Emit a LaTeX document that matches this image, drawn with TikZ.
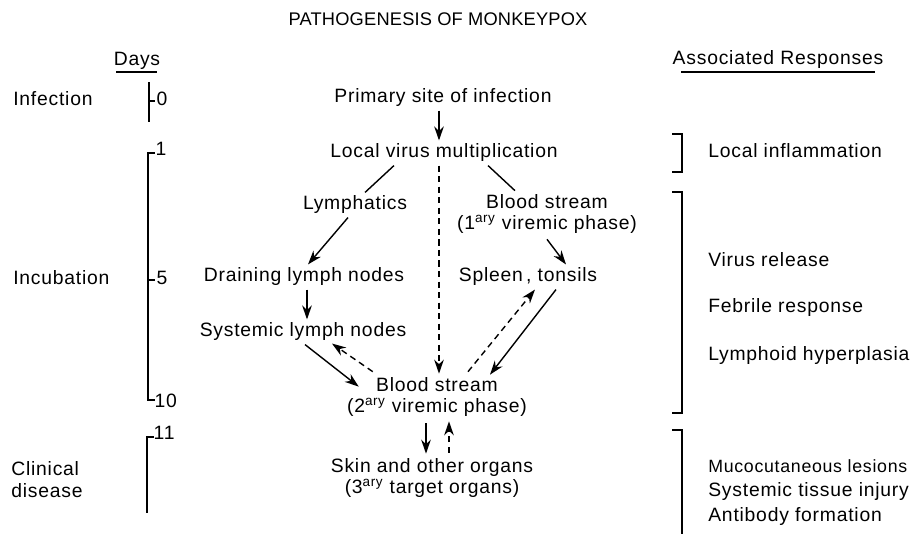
\documentclass[tikz,border=0pt]{standalone}
\usepackage{fontspec}
\setmainfont{Liberation Sans}[LetterSpace=4]
\newfontfamily\titlefont{Liberation Sans}[LetterSpace=1]
\usetikzlibrary{arrows.meta,calc}

\tikzset{
  txt/.style={font=\fontsize{11}{12}\selectfont, inner sep=1.5pt, text height=8pt, text depth=2.5pt},
  twoline/.style={font=\fontsize{11}{12.5}\selectfont, inner sep=1.5pt, align=center},
  dashline/.style={dash pattern=on 3.5pt off 2.5pt},
}

\begin{document}
\begin{tikzpicture}[x=0.02cm, y=-0.02cm, line width=0.8pt,
    >={Stealth[length=8pt,width=5.5pt]}]
        \useasboundingbox (0,0) rectangle (914,534);

        % Title and headings
        \node[txt, font=\titlefont\fontsize{10.4}{11}\selectfont] (title) at (438,21) {PATHOGENESIS OF MONKEYPOX};
        \node[txt] (days) at (137,61) {Days};
        \draw (116,72) -- (157,72);
        \node[txt] (resp) at (778,60) {Associated Responses};
        \draw (681,72) -- (875,72);

        % Stages on the left
        \node[txt, anchor=west] (infect) at (10,101) {Infection};
        \node[txt, anchor=west] (incub) at (10,280) {Incubation};
        \node[twoline, anchor=west, align=left] (clin) at (8,480) {Clinical\\disease};

        % Days scale
        \draw (149,82) -- (149,122);
        \draw (149,101) -- (155,101);
        \node[txt, anchor=west, inner sep=0pt] (d0) at (156,101) {0};
        \draw (155,153) -- (148,153) -- (148,400) -- (155,400);
        \draw (148,280) -- (155,280);
        \node[txt, anchor=west, inner sep=0pt] (d1) at (155,151) {1};
        \node[txt, anchor=west, inner sep=0pt] (d5) at (156,280) {5};
        \node[txt, anchor=west, inner sep=0pt] (d10) at (154,403) {10};
        \draw (154,437) -- (147,437) -- (147,513);
        \node[txt, anchor=west, inner sep=0pt] (d11) at (153,435) {11};

        % Course of the infection
        \node[txt] (psi) at (443,98) {Primary site of infection};
        \node[txt] (lvm) at (444,153) {Local virus multiplication};
        \node[txt] (lymph) at (355,205) {Lymphatics};
        \node[twoline] (bs1) at (547,214) {Blood stream\\(1\textsuperscript{ary} viremic phase)};
        \node[txt] (drain) at (304,277) {Draining lymph nodes};
        \node[txt] (spleen) at (528,277) {Spleen\,, tonsils};
        \node[txt] (sys) at (303,332) {Systemic lymph nodes};
        \node[twoline] (bs2) at (437,397) {Blood stream\\(2\textsuperscript{ary} viremic phase)};
        \node[twoline] (skin) at (432,478) {Skin and other organs\\(3\textsuperscript{ary} target organs)};

        % Connectors
        \draw[->] ($(psi.south)+(-4,0)$) -- ($(lvm.north)+(-5,0)$);
        \draw[->, dashline] ($(lvm.south)+(-5,0)$) -- ($(bs2.north)+(2,0)$);
        \draw ($(lvm.south)+(-50,0)$) -- ($(lymph.north)+(10,0)$);
        \draw ($(lvm.south)+(44,0)$) -- ($(bs1.north)+(-32,0)$);
        \draw[->] ($(lymph.south)+(-7,0)$) -- ($(drain.north)+(4,0)$);
        \draw[->] ($(bs1.south)+(0,2)$) -- ($(spleen.north)+(38,0)$);
        \draw[->] ($(drain.south)+(3,0)$) -- ($(sys.north)+(4,0)$);
        \draw[->] ($(sys.south)+(2,0)$) -- ($(bs2.north west)+(15,13)$);
        \draw[->, dashline] ($(bs2.north west)+(29,-2)$) -- ($(sys.south)+(29,-1)$);
        \draw[->, dashline] ($(bs2.north)+(31,-2)$) -- ($(spleen.south)+(7,0)$);
        \draw[->] ($(spleen.south)+(28,0)$) -- ($(bs2.north)+(53,1)$);
        \draw[->] ($(bs2.south)+(-11,3)$) -- ($(skin.north)+(-6,-1)$);
        \draw[->, dashline] ($(skin.north)+(17,-2)$) -- ($(bs2.south)+(12,1)$);

        % Associated responses
        \draw (672,134) -- (682,134) -- (682,172) -- (672,172);
        \node[txt, anchor=west] (infl) at (705,153) {Local inflammation};
        \draw (672,192) -- (682,192) -- (682,413) -- (672,413);
        \node[txt, anchor=west] (vrel) at (705,262) {Virus release};
        \node[txt, anchor=west] (febr) at (705,308) {Febrile response};
        \node[txt, anchor=west] (hyper) at (705,356) {Lymphoid hyperplasia};
        \draw (672,430) -- (682,430) -- (682,534);
        \node[txt, anchor=west, font=\fontsize{10.1}{12}\selectfont] (muco) at (705,468) {Mucocutaneous lesions};
        \node[txt, anchor=west] (tiss) at (705,492) {Systemic tissue injury};
        \node[txt, anchor=west] (anti) at (705,517) {Antibody formation};
    \end{tikzpicture}
\end{document}
